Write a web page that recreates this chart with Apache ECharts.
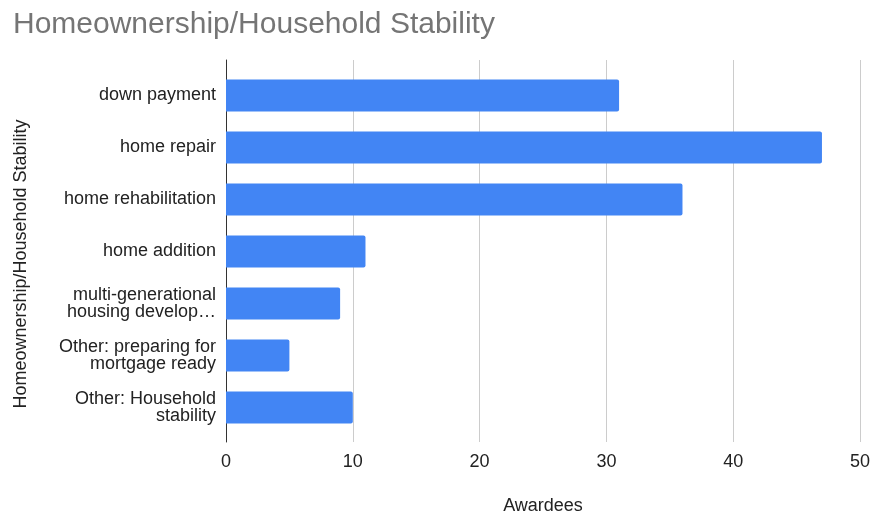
<!DOCTYPE html>
<html><head><meta charset="utf-8">
<script src="https://cdn.jsdelivr.net/npm/echarts@6/dist/echarts.min.js"></script>
<style>html,body{margin:0;padding:0;background:#fff}#c{width:871px;height:514px}</style>
</head><body><div id="c"></div>
<script>
const categories = ["down payment","home repair","home rehabilitation","home addition","multi-generational\nhousing develop…","Other: preparing for\nmortgage ready","Other: Household\nstability"];
const awardees = [31,47,36,11,9,5,10];
const xTicks = {min:0,max:50,interval:10};
const F = "'Liberation Sans', Arial, sans-serif";
const chart = echarts.init(document.getElementById('c'));
chart.setOption({
  animation:false,
  title:{text:"Homeownership/Household Stability",left:8,top:5,textStyle:{fontFamily:F,fontSize:30,fontWeight:"normal",color:"#757575"}},
  grid:[
    {left:226,right:11,top:69.5,bottom:80.5,outerBoundsMode:"none"},
    {left:226,right:11,top:60,bottom:72,outerBoundsMode:"none"}
  ],
  xAxis:[
    {gridIndex:0,type:"value",min:xTicks.min,max:xTicks.max,interval:xTicks.interval,
      axisLine:{show:false},axisTick:{show:false},axisLabel:{show:false},splitLine:{show:false}},
    {gridIndex:1,type:"value",min:xTicks.min,max:xTicks.max,interval:xTicks.interval,
      name:"Awardees",nameLocation:"middle",nameGap:55,nameTextStyle:{fontFamily:F,fontSize:18,color:"#222"},
      axisLine:{show:false},axisTick:{show:false},
      axisLabel:{fontFamily:F,fontSize:18,color:"#222",margin:11},
      splitLine:{lineStyle:{color:"#cccccc",width:1}}}
  ],
  yAxis:[
    {gridIndex:0,type:"category",data:categories,inverse:true,
      axisLine:{show:false},axisTick:{show:false},
      axisLabel:{fontFamily:F,fontSize:18,color:"#222",margin:10,lineHeight:17,align:"right"}},
    {gridIndex:1,type:"value",min:0,max:1,
      axisLine:{show:true,onZero:false,lineStyle:{color:"#333",width:1}},axisTick:{show:false},
      axisLabel:{show:false},splitLine:{show:false}}
  ],
  graphic:[{type:"text",x:21,y:264,rotation:Math.PI/2,
    style:{text:"Homeownership/Household Stability",fontFamily:F,fontSize:18,fill:"#222",align:"center",verticalAlign:"middle"}}],
  series:[{type:"bar",xAxisIndex:0,yAxisIndex:0,data:awardees,barCategoryGap:"38%",
    itemStyle:{color:"#4285F4",borderRadius:[0,2,2,0]}}]
});
</script></body></html>
